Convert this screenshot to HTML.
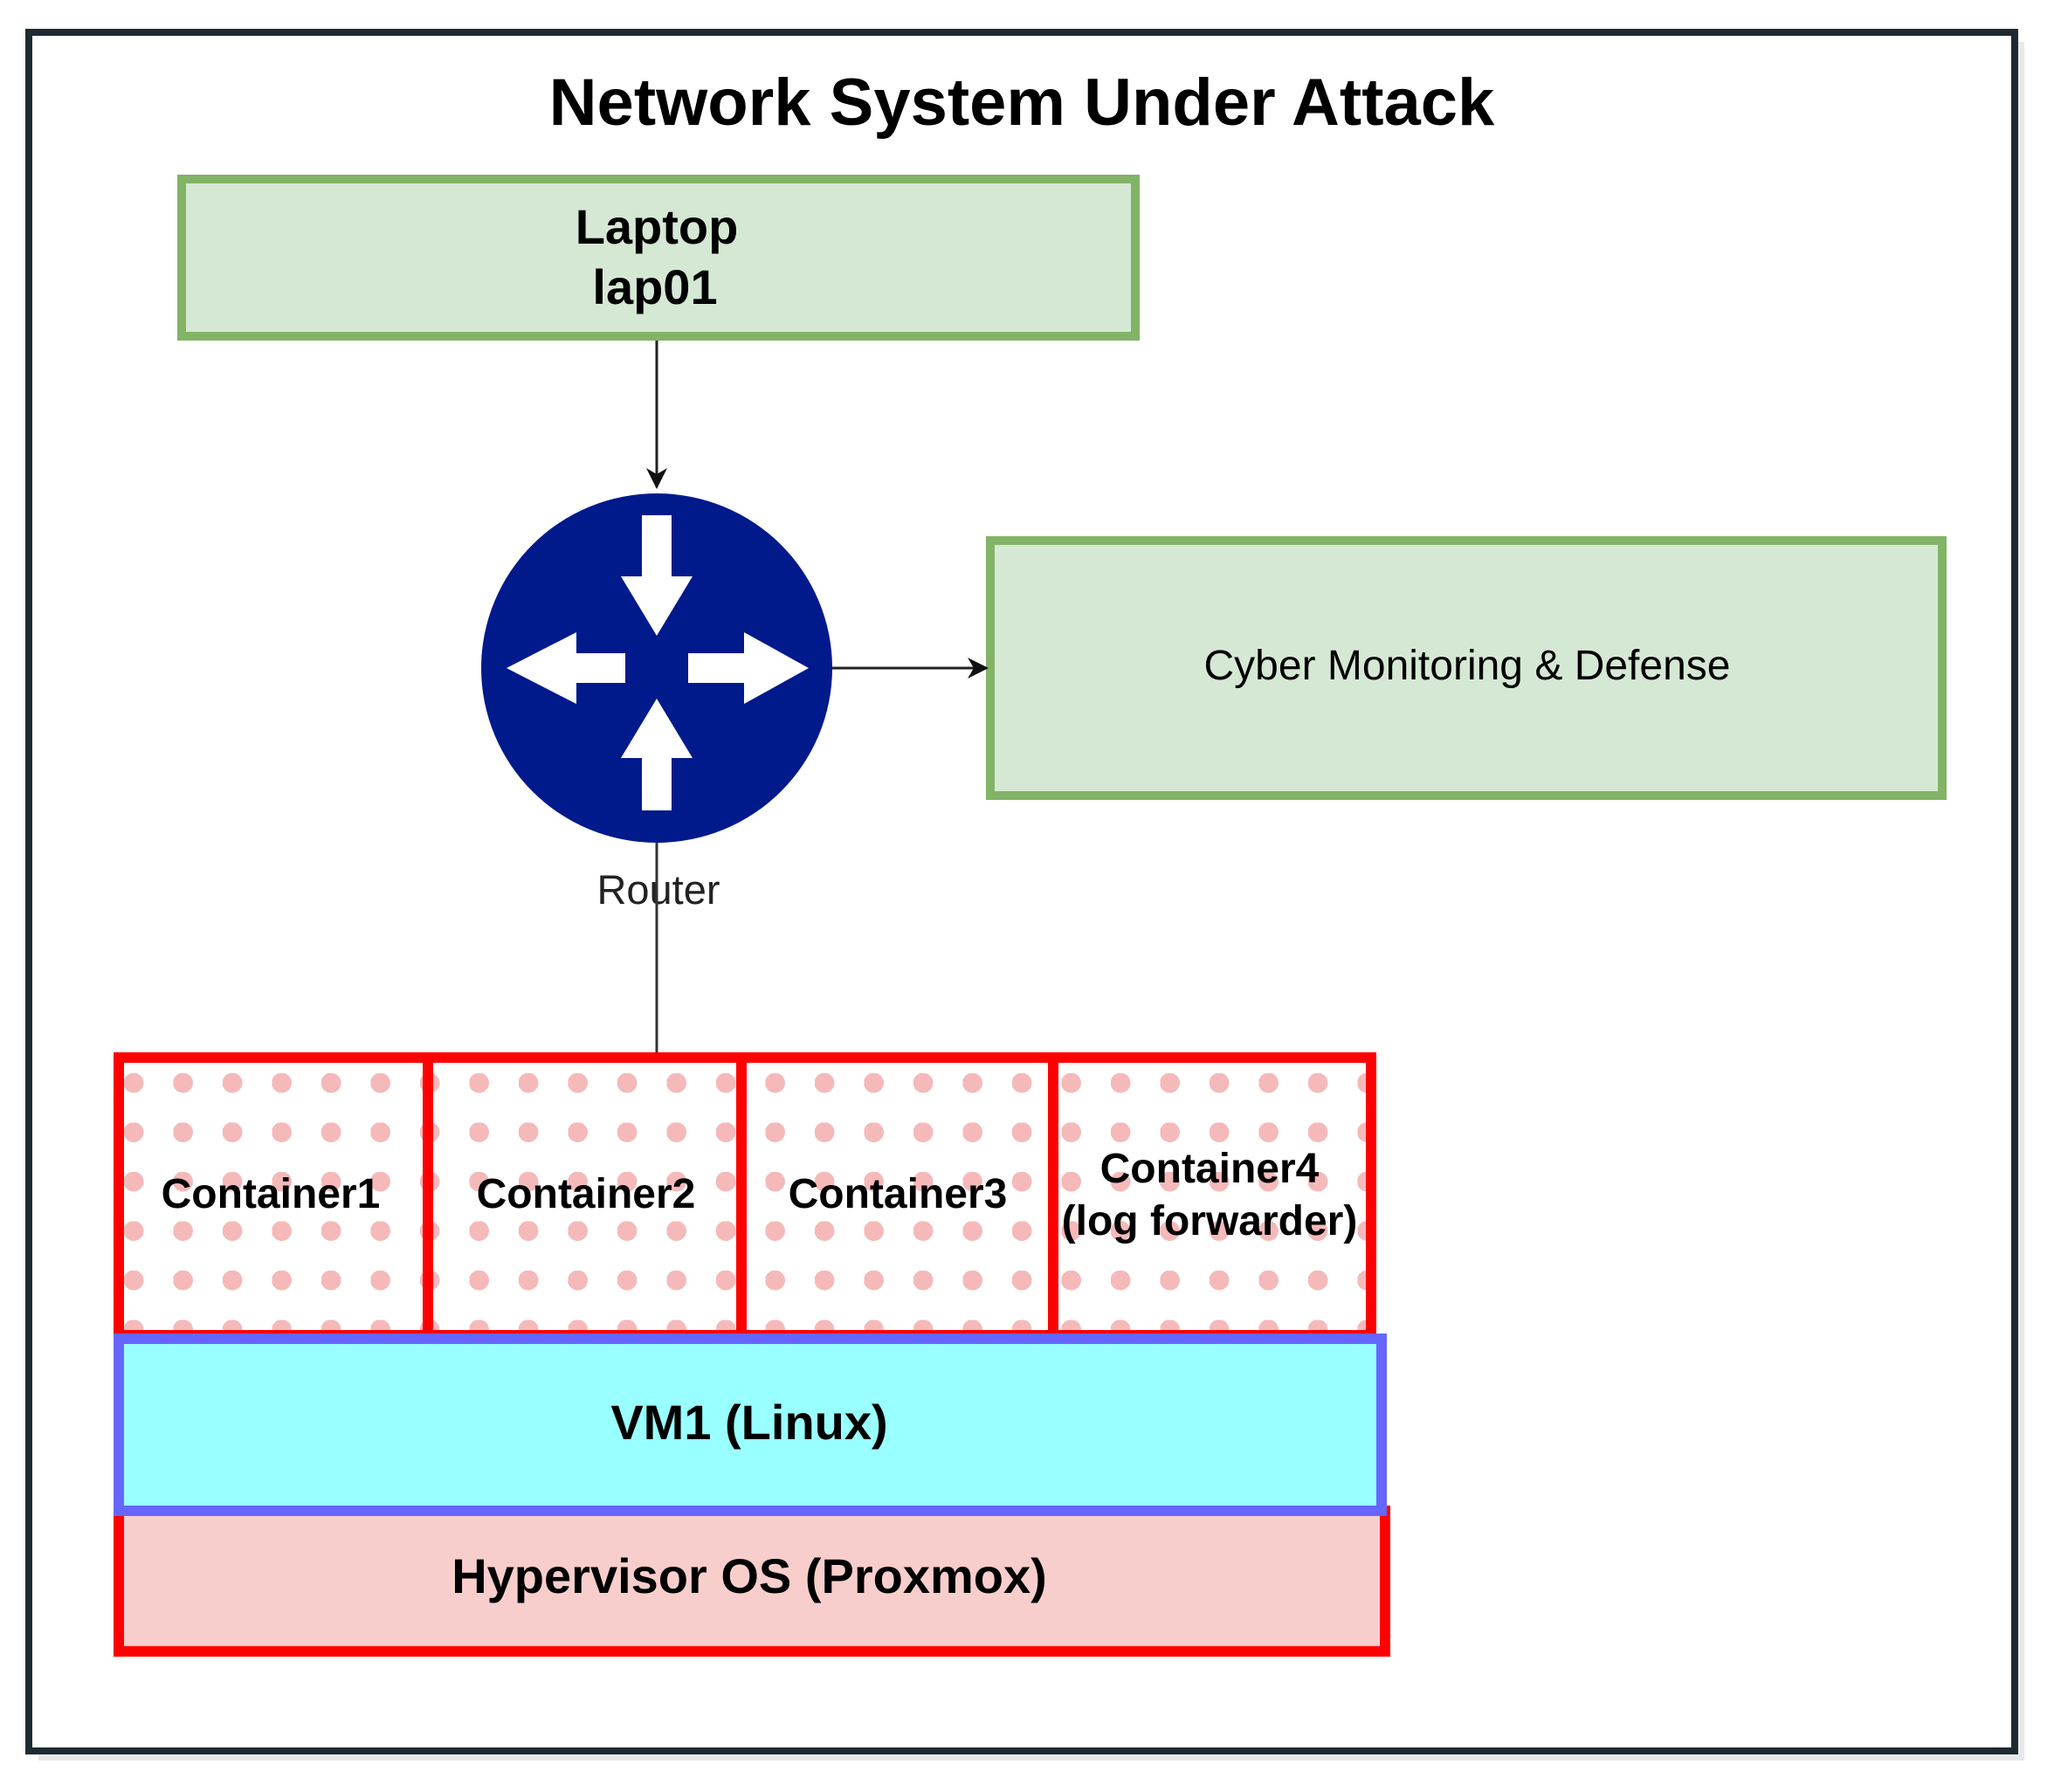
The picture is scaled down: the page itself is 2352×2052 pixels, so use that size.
<!DOCTYPE html>
<html><head><meta charset="utf-8"><style>
html,body{margin:0;padding:0;background:#fff;}
svg{display:block;}
text{font-family:"Liberation Sans",Arial,sans-serif;}
</style></head><body>
<svg width="2352" height="2052" viewBox="0 0 2352 2052" xmlns="http://www.w3.org/2000/svg">
<defs>
<pattern id="dots" x="142" y="1229" width="56.5" height="56.5" patternUnits="userSpaceOnUse">
<circle cx="11" cy="11" r="11.5" fill="#f5b9b9"/>
</pattern>
<marker id="ah" markerWidth="26" markerHeight="26" refX="22" refY="13" orient="auto" markerUnits="userSpaceOnUse">
<path d="M0,1 L24,13 L0,25 L7,13 Z" fill="#111"/>
</marker>
</defs>
<rect width="2352" height="2052" fill="#fff"/>
<rect x="44" y="48" width="2274" height="1968" fill="#d8d8d8" opacity="0.6"/>
<rect x="33" y="37" width="2274" height="1968" fill="#fff" stroke="#1d2b31" stroke-width="8"/>
<text x="1170" y="143" font-size="76" font-weight="bold" text-anchor="middle" fill="#000">Network System Under Attack</text>
<rect x="208" y="205" width="1092" height="180" fill="#d5e8d4" stroke="#82b366" stroke-width="10"/>
<text x="752" y="279" font-size="56" font-weight="bold" text-anchor="middle">Laptop</text>
<text x="750" y="348" font-size="56" font-weight="bold" text-anchor="middle">lap01</text>
<line x1="752" y1="390" x2="752" y2="558" stroke="#222" stroke-width="3" marker-end="url(#ah)"/>
<rect x="1134" y="619" width="1090" height="292" fill="#d5e8d4" stroke="#82b366" stroke-width="10"/>
<text x="1680" y="778" font-size="48" text-anchor="middle">Cyber Monitoring &amp; Defense</text>
<line x1="952" y1="765" x2="1130" y2="765" stroke="#222" stroke-width="3" marker-end="url(#ah)"/>
<ellipse cx="752" cy="765" rx="201" ry="200" fill="#001a8c"/>
<g fill="#fff">
<path d="M735,590 L769,590 L769,660 L793,660 L752,728 L711,660 L735,660 Z"/>
<path d="M735,928 L769,928 L769,868 L793,868 L752,800 L711,868 L735,868 Z"/>
<path d="M716,748 L716,782 L660,782 L660,806 L580,765 L660,724 L660,748 Z"/>
<path d="M788,748 L788,782 L852,782 L852,806 L926,765 L852,724 L852,748 Z"/>
</g>
<text x="754" y="1035" font-size="47" text-anchor="middle" fill="#222">Router</text>
<line x1="752" y1="965" x2="752" y2="1205" stroke="#333" stroke-width="3"/>
<rect x="136" y="1211" width="1434" height="318" fill="url(#dots)" stroke="#ff0000" stroke-width="12"/>
<line x1="490" y1="1205" x2="490" y2="1530" stroke="#ff0000" stroke-width="12"/>
<line x1="849" y1="1205" x2="849" y2="1530" stroke="#ff0000" stroke-width="12"/>
<line x1="1206" y1="1205" x2="1206" y2="1530" stroke="#ff0000" stroke-width="12"/>
<text x="310" y="1383" font-size="48" font-weight="bold" text-anchor="middle">Container1</text>
<text x="671" y="1383" font-size="48" font-weight="bold" text-anchor="middle">Container2</text>
<text x="1028" y="1383" font-size="48" font-weight="bold" text-anchor="middle">Container3</text>
<text x="1385" y="1354" font-size="48" font-weight="bold" text-anchor="middle">Container4</text>
<text x="1385" y="1414" font-size="48" font-weight="bold" text-anchor="middle">(log forwarder)</text>
<rect x="136" y="1730" width="1450" height="161" fill="#f8cecc" stroke="#ff0000" stroke-width="12"/>
<text x="858" y="1824" font-size="56" font-weight="bold" text-anchor="middle">Hypervisor OS (Proxmox)</text>
<rect x="136" y="1533" width="1446" height="197" fill="#99ffff" stroke="#6666ff" stroke-width="12"/>
<text x="858" y="1648" font-size="56" font-weight="bold" text-anchor="middle">VM1 (Linux)</text>
</svg>
</body></html>
